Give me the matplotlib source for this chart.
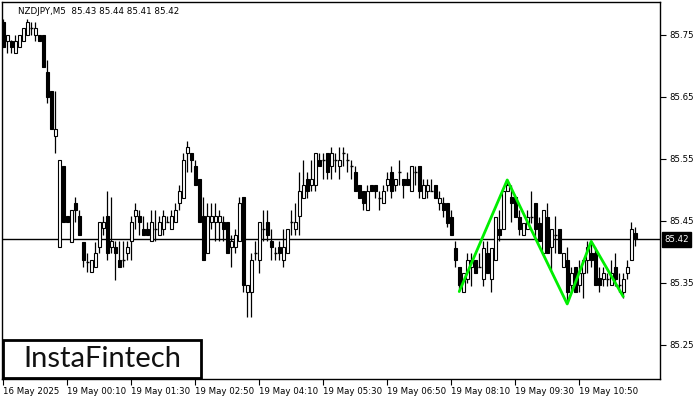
import matplotlib
matplotlib.use("Agg")
import matplotlib.pyplot as plt
from matplotlib.patches import Rectangle
import numpy as np

opens = [85.771, 85.740, 85.740, 85.721, 85.731, 85.740, 85.750, 85.761, 85.750, 85.750,
         85.750, 85.690, 85.660, 85.587, 85.408, 85.539, 85.458, 85.416, 85.479, 85.458,
         85.416, 85.384, 85.368, 85.376, 85.408, 85.439, 85.458, 85.408, 85.408, 85.387,
         85.387, 85.398, 85.418, 85.458, 85.458, 85.437, 85.437, 85.418, 85.437, 85.427,
         85.437, 85.449, 85.437, 85.449, 85.479, 85.487, 85.560, 85.560, 85.539, 85.518,
         85.458, 85.398, 85.449, 85.449, 85.449, 85.449, 85.449, 85.408, 85.408, 85.418,
         85.489, 85.335, 85.335, 85.398, 85.387, 85.437, 85.449, 85.418, 85.398, 85.408,
         85.387, 85.398, 85.449, 85.437, 85.458, 85.487, 85.518, 85.508, 85.508, 85.548,
         85.548, 85.560, 85.539, 85.548, 85.539, 85.560, 85.548, 85.539, 85.529, 85.508,
         85.498, 85.468, 85.508, 85.508, 85.487, 85.479, 85.508, 85.529, 85.508, 85.529,
         85.518, 85.518, 85.498, 85.529, 85.539, 85.487, 85.498, 85.498, 85.508, 85.479,
         85.479, 85.479, 85.457, 85.406, 85.376, 85.335, 85.356, 85.376, 85.387, 85.376,
         85.356, 85.398, 85.356, 85.387, 85.437, 85.437, 85.498, 85.489, 85.489, 85.457,
         85.427, 85.437, 85.457, 85.479, 85.447, 85.398, 85.457, 85.408, 85.427, 85.437,
         85.376, 85.387, 85.347, 85.376, 85.347, 85.366, 85.387, 85.398, 85.398, 85.358,
         85.356, 85.356, 85.347, 85.376, 85.347, 85.335, 85.366, 85.387, 85.430]
highs = [85.775, 85.750, 85.742, 85.750, 85.750, 85.761, 85.775, 85.771, 85.771, 85.750,
         85.750, 85.710, 85.660, 85.660, 85.548, 85.539, 85.458, 85.468, 85.489, 85.468,
         85.416, 85.398, 85.387, 85.416, 85.449, 85.458, 85.498, 85.489, 85.418, 85.418,
         85.418, 85.418, 85.458, 85.479, 85.468, 85.458, 85.449, 85.468, 85.468, 85.458,
         85.468, 85.458, 85.468, 85.479, 85.508, 85.560, 85.579, 85.560, 85.548, 85.518,
         85.489, 85.479, 85.479, 85.479, 85.468, 85.458, 85.449, 85.427, 85.437, 85.489,
         85.489, 85.347, 85.398, 85.418, 85.449, 85.468, 85.468, 85.437, 85.408, 85.418,
         85.437, 85.437, 85.468, 85.479, 85.529, 85.548, 85.529, 85.548, 85.560, 85.560,
         85.560, 85.560, 85.569, 85.560, 85.569, 85.569, 85.560, 85.548, 85.539, 85.508,
         85.498, 85.508, 85.508, 85.508, 85.498, 85.508, 85.529, 85.539, 85.518, 85.548,
         85.518, 85.529, 85.539, 85.539, 85.539, 85.518, 85.518, 85.518, 85.508, 85.498,
         85.489, 85.479, 85.468, 85.418, 85.376, 85.366, 85.398, 85.398, 85.387, 85.398,
         85.418, 85.418, 85.406, 85.457, 85.468, 85.498, 85.518, 85.508, 85.489, 85.468,
         85.447, 85.468, 85.498, 85.479, 85.457, 85.468, 85.479, 85.437, 85.458, 85.437,
         85.398, 85.408, 85.376, 85.376, 85.387, 85.387, 85.418, 85.418, 85.408, 85.376,
         85.376, 85.366, 85.387, 85.398, 85.366, 85.366, 85.387, 85.449, 85.440]
lows = [85.731, 85.721, 85.721, 85.721, 85.731, 85.740, 85.750, 85.750, 85.740, 85.740,
        85.698, 85.640, 85.598, 85.560, 85.408, 85.449, 85.449, 85.416, 85.449, 85.427,
        85.376, 85.368, 85.368, 85.376, 85.398, 85.427, 85.387, 85.398, 85.355, 85.376,
        85.376, 85.387, 85.387, 85.437, 85.427, 85.427, 85.427, 85.418, 85.418, 85.427,
        85.427, 85.449, 85.437, 85.449, 85.468, 85.487, 85.529, 85.529, 85.508, 85.449,
        85.387, 85.398, 85.437, 85.418, 85.418, 85.418, 85.398, 85.376, 85.398, 85.418,
        85.335, 85.295, 85.295, 85.387, 85.366, 85.418, 85.418, 85.387, 85.387, 85.387,
        85.376, 85.398, 85.427, 85.427, 85.427, 85.487, 85.487, 85.498, 85.498, 85.539,
        85.518, 85.518, 85.518, 85.529, 85.518, 85.539, 85.529, 85.518, 85.498, 85.487,
        85.468, 85.468, 85.498, 85.487, 85.468, 85.479, 85.498, 85.487, 85.498, 85.508,
        85.487, 85.508, 85.498, 85.508, 85.487, 85.487, 85.487, 85.498, 85.487, 85.468,
        85.456, 85.440, 85.427, 85.376, 85.340, 85.335, 85.350, 85.345, 85.366, 85.376,
        85.345, 85.366, 85.335, 85.387, 85.418, 85.437, 85.498, 85.449, 85.457, 85.427,
        85.427, 85.437, 85.447, 85.420, 85.418, 85.398, 85.398, 85.370, 85.398, 85.398,
        85.376, 85.318, 85.335, 85.335, 85.335, 85.325, 85.366, 85.376, 85.347, 85.335,
        85.345, 85.345, 85.347, 85.345, 85.335, 85.325, 85.356, 85.387, 85.410]
closes = [85.731, 85.750, 85.730, 85.740, 85.750, 85.761, 85.771, 85.761, 85.761, 85.740,
          85.698, 85.650, 85.598, 85.598, 85.548, 85.449, 85.449, 85.468, 85.468, 85.427,
          85.387, 85.384, 85.387, 85.398, 85.449, 85.449, 85.398, 85.418, 85.398, 85.376,
          85.387, 85.408, 85.449, 85.468, 85.449, 85.427, 85.427, 85.449, 85.437, 85.449,
          85.458, 85.449, 85.458, 85.468, 85.498, 85.548, 85.569, 85.548, 85.508, 85.449,
          85.387, 85.458, 85.458, 85.458, 85.458, 85.437, 85.398, 85.418, 85.427, 85.479,
          85.347, 85.347, 85.387, 85.398, 85.449, 85.437, 85.427, 85.408, 85.398, 85.398,
          85.408, 85.437, 85.449, 85.449, 85.498, 85.508, 85.498, 85.518, 85.560, 85.539,
          85.548, 85.529, 85.560, 85.548, 85.548, 85.560, 85.548, 85.539, 85.498, 85.487,
          85.479, 85.498, 85.498, 85.498, 85.487, 85.498, 85.518, 85.498, 85.518, 85.529,
          85.508, 85.508, 85.539, 85.529, 85.498, 85.508, 85.508, 85.498, 85.487, 85.487,
          85.468, 85.447, 85.427, 85.387, 85.347, 85.366, 85.387, 85.387, 85.366, 85.376,
          85.406, 85.366, 85.406, 85.457, 85.427, 85.498, 85.508, 85.479, 85.457, 85.437,
          85.447, 85.457, 85.457, 85.437, 85.418, 85.468, 85.398, 85.437, 85.427, 85.398,
          85.398, 85.335, 85.366, 85.335, 85.366, 85.387, 85.408, 85.387, 85.347, 85.347,
          85.366, 85.356, 85.366, 85.356, 85.347, 85.356, 85.376, 85.437, 85.420]

pattern_idx = [114, 126, 141, 147, 155]
pattern_price = [85.336, 85.516, 85.316, 85.417, 85.328]

time_labels = ["16 May 2025", "19 May 00:10", "19 May 01:30", "19 May 02:50",
               "19 May 04:10", "19 May 05:30", "19 May 06:50", "19 May 08:10",
               "19 May 09:30", "19 May 10:50"]
price_ticks = [85.25, 85.35, 85.45, 85.55, 85.65, 85.75]
symbol = "NZDJPY,M5"
last_ohlc = "85.43 85.44 85.41 85.42"
last_price = 85.42

W, H = 700, 400
fig = plt.figure(figsize=(7, 4), dpi=100)
fig.patch.set_facecolor("white")
ax = fig.add_axes([2 / W, (H - 379) / H, (660 - 2) / W, (379 - 2) / H])
ax.set_facecolor("white")

n = len(opens)
x = np.arange(n)
ax.set_xlim(-0.33, 164.2)
ax.set_ylim(85.195, 85.803)

bw = 0.72
ax.vlines(x, lows, highs, color="black", lw=0.9, zorder=2)
for i in range(n):
    o, c = opens[i], closes[i]
    if abs(c - o) < 1e-6:
        ax.hlines(o, i - bw / 2, i + bw / 2, color="black", lw=1.0, zorder=3)
        continue
    fc = "white" if c > o else "black"
    ax.add_patch(Rectangle((i - bw / 2, min(o, c)), bw, abs(c - o),
                           facecolor=fc, edgecolor="black", lw=0.8, zorder=3))

ax.axhline(last_price, color="black", lw=1.0, zorder=1)
ax.plot(pattern_idx, pattern_price, color="#00ee00", lw=2.0, zorder=4,
        solid_capstyle="round")

for s in ax.spines.values():
    s.set_color("black")
    s.set_linewidth(1.0)

ax.yaxis.tick_right()
ax.set_yticks(price_ticks)
ax.set_yticklabels([f"{p:.2f}" for p in price_ticks])
ax.tick_params(axis="y", direction="out", length=4, width=0.8, pad=3,
               labelsize=6.2, colors="black")
ax.set_xticks(np.arange(0, 16 * len(time_labels), 16))
ax.set_xticklabels(time_labels, ha="left")
ax.tick_params(axis="x", direction="out", length=4, width=0.8, pad=2,
               labelsize=6.2, colors="black")
for lab in ax.get_xticklabels():
    lab.set_horizontalalignment("left")

# current price tag
ax.annotate(f"{last_price:.2f}", xy=(1.0, last_price), xycoords=("axes fraction", "data"),
            xytext=(3, 0), textcoords="offset points", va="center", ha="left",
            fontsize=6.2, color="white",
            bbox=dict(boxstyle="square,pad=0.3", fc="black", ec="black"),
            annotation_clip=False, zorder=10)

fig.text(18 / W, 1 - 11 / H, f"{symbol}  {last_ohlc}", fontsize=6.3, color="black",
         va="center", ha="left")

# logo box
ax.add_patch(Rectangle((3 / W, (H - 378) / H), 198 / W, 38 / H, transform=fig.transFigure,
                       facecolor="white", edgecolor="black", lw=2.0, zorder=20,
                       clip_on=False))
fig.text(102 / W, (H - 359) / H, "InstaFintech", fontsize=21, family="Lato",
         color="#111111", ha="center", va="center", zorder=21)

fig.savefig("out.png", dpi=100)
